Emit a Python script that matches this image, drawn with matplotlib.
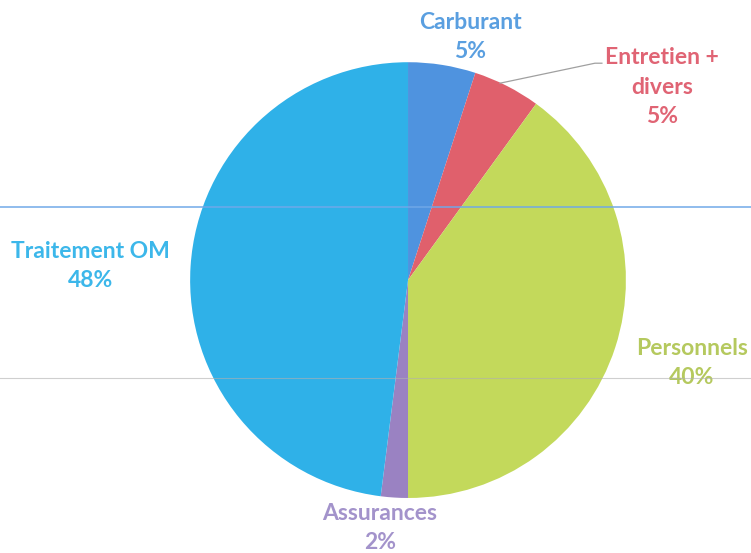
import matplotlib.pyplot as plt
from matplotlib.lines import Line2D

labels = ["Carburant", "Entretien +\ndivers", "Personnels", "Assurances", "Traitement OM"]
values = [5, 5, 40, 2, 48]
colors = ["#4f93df", "#e0606c", "#c3d95b", "#9a82c2", "#2fb1e8"]
text_colors = ["#5a9fe0", "#e06474", "#b5c95e", "#a393cb", "#3cb7ea"]

fig = plt.figure(figsize=(7.51, 5.53), dpi=100)
ax = fig.add_axes([0.253, 0.0995, 0.5806, 0.788])
ax.pie(values, colors=colors, startangle=90, counterclock=False, radius=1)
ax.set_xlim(-1, 1)
ax.set_ylim(-1, 1)
ax.set_aspect("equal")
ax.axis("off")

# label positions (pixel centres in the reference, converted to data units)
cx, cy, r = 408, 280, 218
label_px = [(470, 37), (662, 87), (692, 363), (380, 528), (90, 266)]
for lab, val, col, (px, py) in zip(labels, values, text_colors, label_px):
    ax.text((px - cx) / r, (cy - py) / r, f"{lab}\n{val}%", color=col,
            ha="center", va="center", fontsize=16.5, fontweight="bold",
            family="Lato", linespacing=1.5, clip_on=False)

# leader line for Entretien + divers
ax.plot([(500 - cx) / r, (595 - cx) / r, (602 - cx) / r],
        [(cy - 83) / r, (cy - 63) / r, (cy - 63) / r],
        color="#a0a0a0", lw=0.9, clip_on=False)

# scan artefacts
fig.add_artist(Line2D([0, 1], [1 - 207 / 553] * 2, color="#6fa8e8", lw=1.2, alpha=0.9))
fig.add_artist(Line2D([0, 1], [1 - 378 / 553] * 2, color="#b0b0b0", lw=0.8, alpha=0.6))

fig.savefig("out.png", dpi=100)
